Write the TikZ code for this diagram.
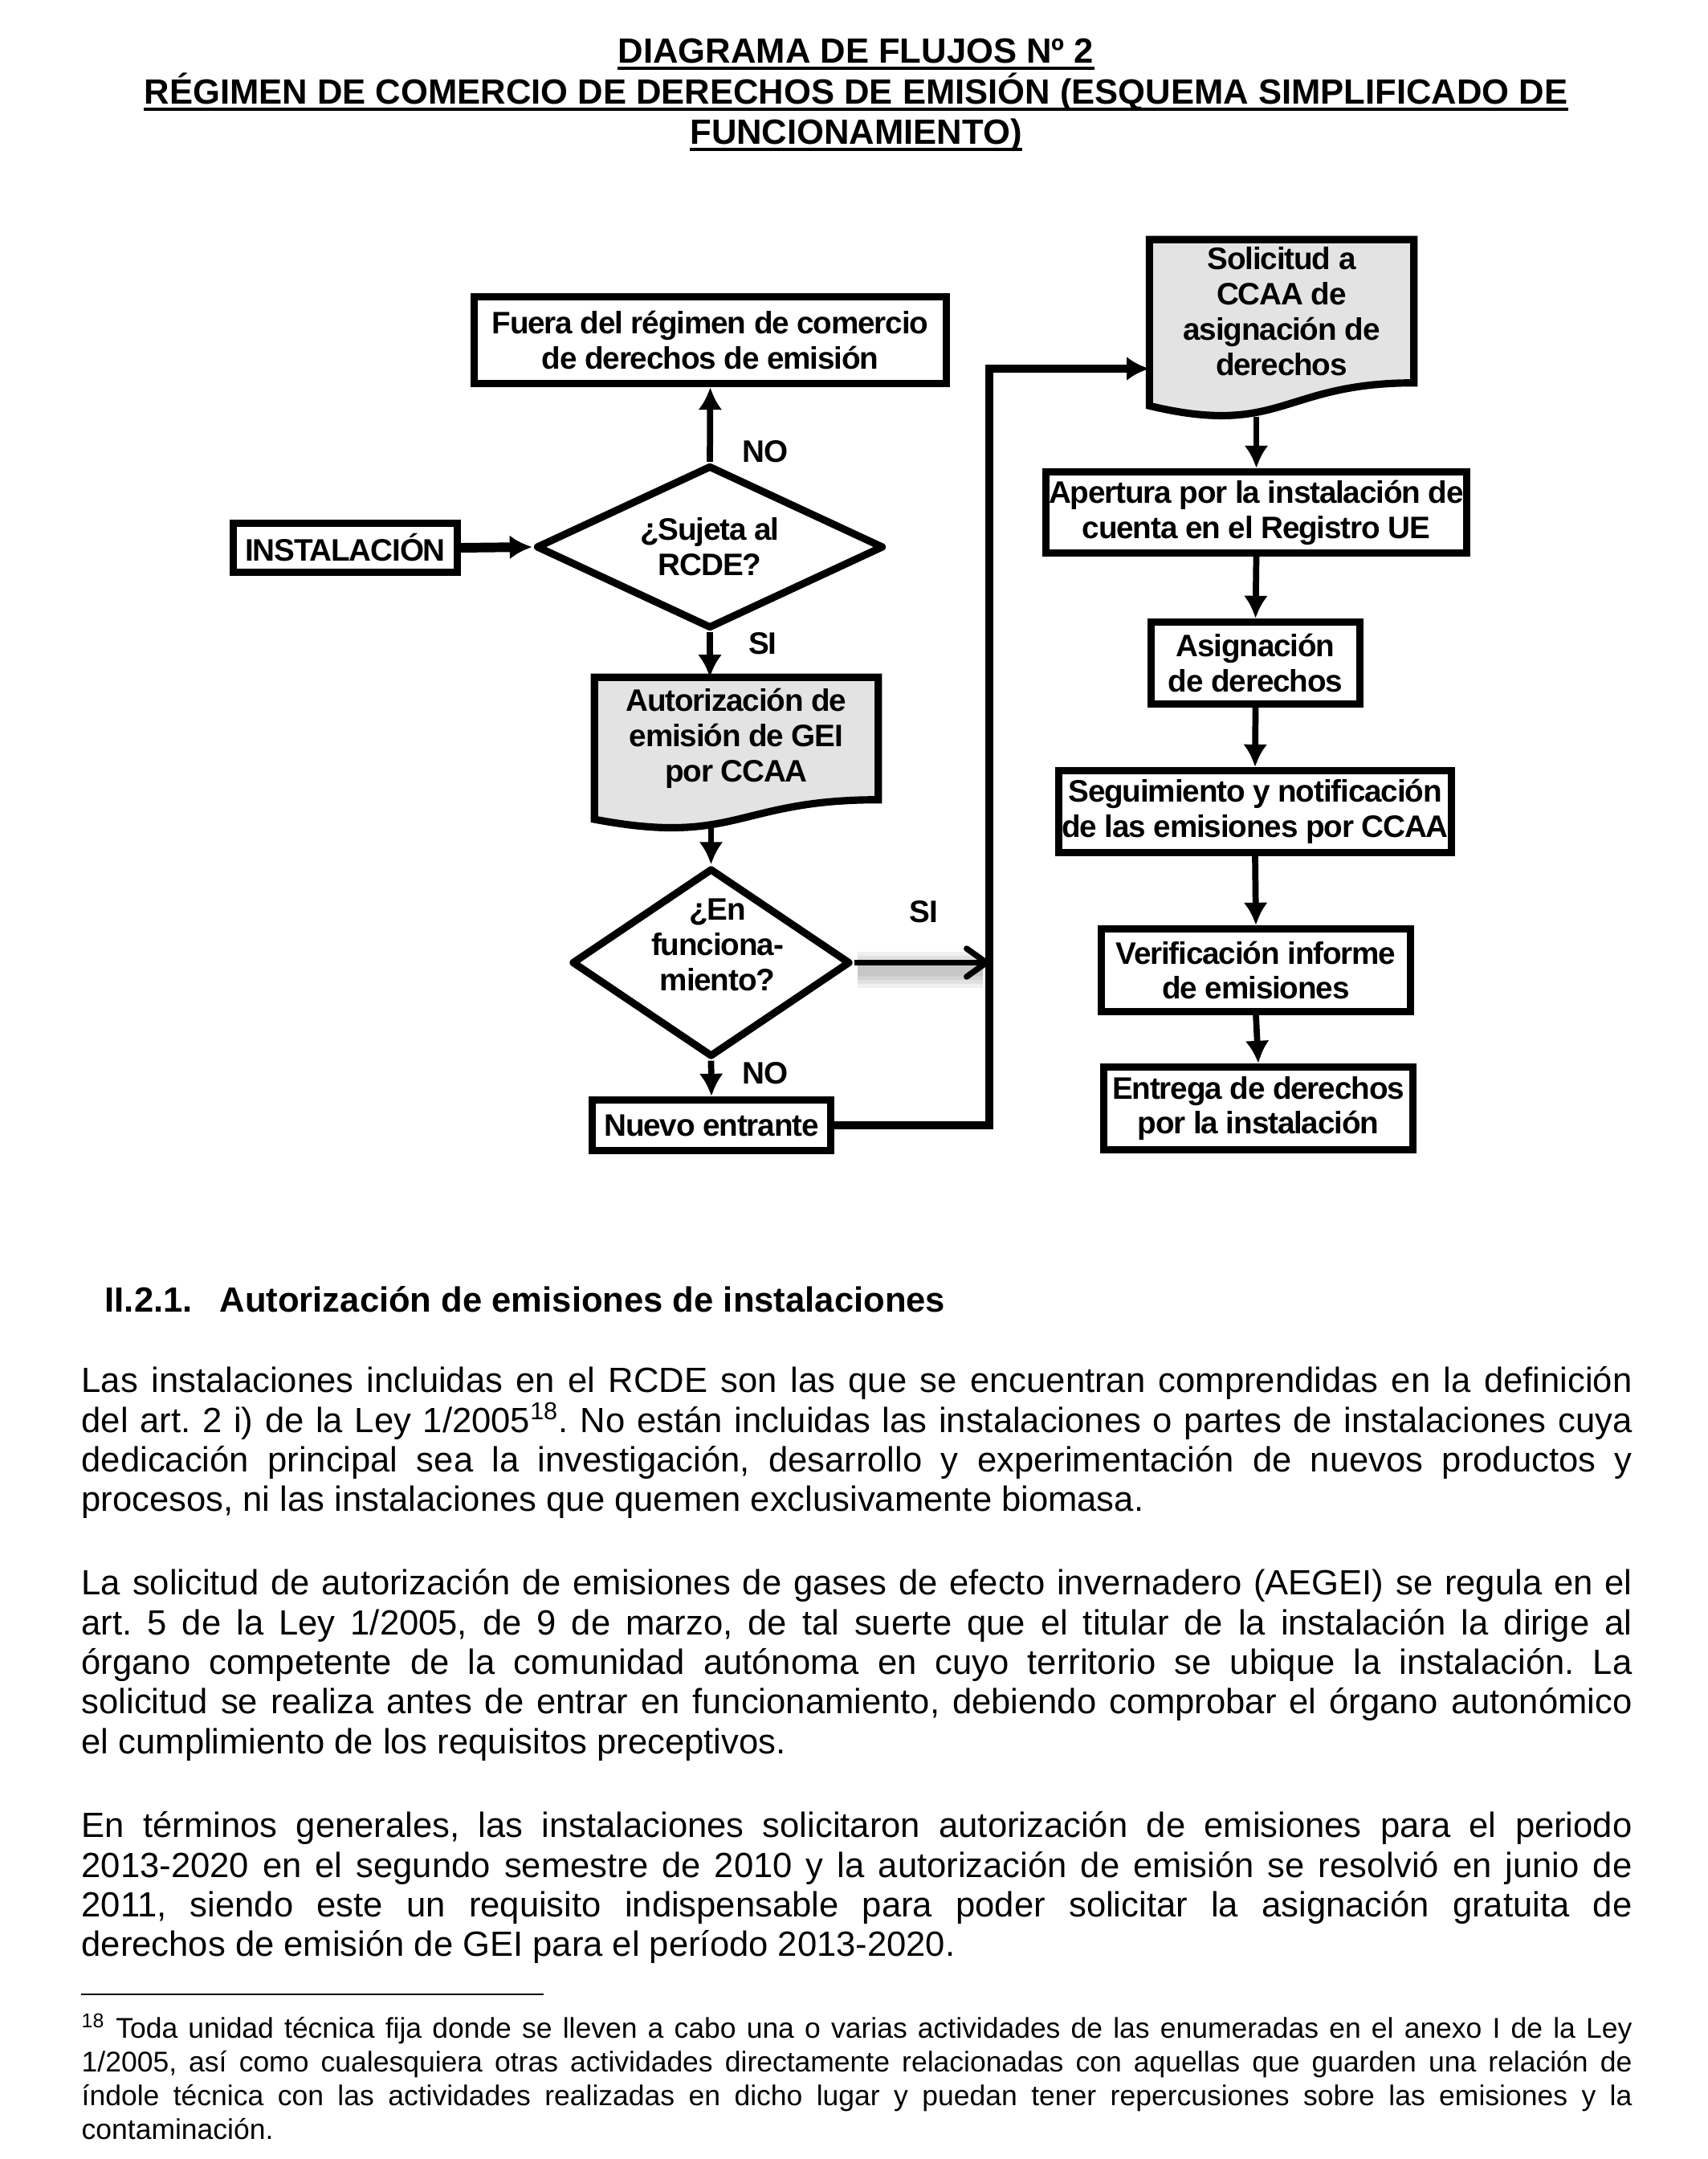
\documentclass[tikz,border=0pt]{standalone}
\usepackage{fontspec}
\setmainfont{Liberation Sans}
\newfontfamily\chartfont[LetterSpace=-3]{Liberation Sans}
\usetikzlibrary{shapes.geometric,arrows.meta,calc,backgrounds}
\frenchspacing

\newcommand\bodysize{\fontsize{12.4}{14.06}\selectfont}
\newcommand\notesize{\fontsize{10.1}{11.9}\selectfont}
\newlength\bodyw
\setlength\bodyw{19.31cm}
\newcommand\fl[1]{\makebox[\bodyw][s]{#1}}
\newcommand\fnmark[1]{\smash{\textsuperscript{#1}}}

\tikzset{
  chart/.style={font=\chartfont\bfseries\fontsize{11}{12.5}\selectfont,
    align=center, inner sep=0pt},
  box/.style={chart, draw, line width=2.6pt},
  docbox/.style={chart},
  decision/.style={chart, diamond, draw, line width=2.6pt, line join=round},
  flow/.style={->, line width=2.2pt},
  title/.style={font=\bfseries\fontsize{12.4}{14.3}\selectfont, inner sep=0pt, anchor=base},
  para/.style={font=\bodysize, align=left, inner sep=0pt, anchor=north west},
}

\begin{document}
\begin{tikzpicture}[>={Latex[length=8pt,width=8.5pt]}]
\def\docshape#1{
  \filldraw[fill=gray!22, line width=2.6pt] (#1.north west) -- (#1.north east)
    -- (#1.south east) .. controls (#1.south) and ($(#1.south)!-0.38!(#1.north)$)
    .. ($(#1.south west)!-0.16!(#1.north west)$) -- cycle;
}
\useasboundingbox (0,0) rectangle (21.26,-26.88);

% titulo
\node[title] (t1) at (10.66,-0.79) {DIAGRAMA DE FLUJOS Nº 2};
\node[title] (t2) at (10.66,-1.30) {RÉGIMEN DE COMERCIO DE DERECHOS DE EMISIÓN (ESQUEMA SIMPLIFICADO DE};
\node[title] (t3) at (10.66,-1.80) {FUNCIONAMIENTO)};
\foreach \tl in {t1,t2,t3}
  \draw[line width=1.1pt] ([yshift=-0.6mm]\tl.base west) -- ([yshift=-0.6mm]\tl.base east);

% columna izquierda
\node[box, minimum width=5.88cm, minimum height=1.08cm] (out) at (8.845,-4.235)
  {Fuera del régimen de comercio\\de derechos de emisión};
\node[box, minimum width=2.79cm, minimum height=0.61cm] (inst) at (4.30,-6.82) {INSTALACIÓN};
\node[decision, aspect=2.1, minimum width=4.33cm, minimum height=2.03cm] (q1) at (8.84,-6.81)
  {¿Sujeta al\\RCDE?};
\node[docbox, minimum width=3.52cm, minimum height=1.51cm] (auth) at (9.17,-9.195)
  {Autorización de\\emisión de GEI\\por CCAA};
\node[decision, minimum width=3.47cm, minimum height=2.35cm] (q2) at (8.855,-11.985) {};
\node[chart] (q2t) at ([xshift=0.08cm,yshift=0.22cm]q2.center) {¿En\\funciona-\\miento?};
\node[box, minimum width=2.97cm, minimum height=0.63cm] (new) at (8.86,-14.01) {Nuevo entrante};

% columna derecha
\node[docbox, minimum width=3.28cm, minimum height=1.77cm] (sol) at (15.96,-3.875)
  {Solicitud a\\CCAA de\\asignación de\\derechos};
\node[box, minimum width=5.24cm, minimum height=1.01cm] (open) at (15.645,-6.38)
  {Apertura por la instalación de\\cuenta en el Registro UE};
\node[box, minimum width=2.60cm, minimum height=1.02cm] (alloc) at (15.635,-8.255)
  {Asignación\\de derechos};
\node[box, minimum width=4.89cm, minimum height=1.02cm] (track) at (15.63,-10.105)
  {Seguimiento y notificación\\de las emisiones por CCAA};
\node[box, minimum width=3.85cm, minimum height=1.03cm] (verif) at (15.64,-12.08)
  {Verificación informe\\de emisiones};
\node[box, minimum width=3.85cm, minimum height=1.03cm] (give) at (15.67,-13.80)
  {Entrega de derechos\\por la instalación};

\begin{scope}[on background layer]
  \fill[white] (0,0) rectangle (21.26,-26.88);
  \docshape{auth}
  \docshape{sol}
\end{scope}

% etiquetas
\node[chart] (no1) at (9.53,-5.62) {NO};
\node[chart] (si1) at (9.50,-8.01) {SI};
\node[chart] (si2) at (11.50,-11.35) {SI};
\node[chart] (no2) at (9.53,-13.36) {NO};

% flechas
\coordinate (rail) at (12.32,-4.59);
\coordinate (authfoot) at ($(auth.south -| q2.north)+(0,-0.35)$);
\coordinate (solfoot) at ($(sol.south -| open.north)+(0,-0.42)$);
\draw[flow, line width=3.4pt] (inst.east) -- (q1.west);
\draw[flow] (q1.north) -- (out.south);
\draw[flow] (q1.south) -- (q1.south |- auth.north);
\draw[flow] (authfoot) -- (q2.north);
\draw[flow] (q2.south) -- (new.north);
\draw[flow, line width=2.6pt] (new.east) -| (rail) -- (rail -| sol.west);
\foreach \w in {13,10,7,4}
  \draw[line width=\w pt, black, opacity=0.06] ($(q2.east)+(0.04,-0.09)$) -- ($(q2.east -| rail)+(-0.08,-0.09)$);
\draw[line width=2.1pt, -{Straight Barb[length=7pt,width=10pt,round]}] (q2.east) -- (q2.east -| rail);
\draw[flow] (solfoot) -- (open.north);
\draw[flow] (open.south) -- (alloc.north);
\draw[flow] (alloc.south) -- (track.north);
\draw[flow] (track.south) -- (verif.north);
\draw[flow] (verif.south) -- (give.north);

% texto
\node[para] (head) at (1.30,-15.983)
  {\strut\makebox[1.43cm][l]{\textbf{II.2.1.}}\textbf{Autorización de emisiones de instalaciones}};
\node[para] (p1) at (1.01,-16.983) {%
\fl{\strut Las instalaciones incluidas en el RCDE son las que se encuentran comprendidas en la definición}\\
\fl{del art. 2 i) de la Ley 1/2005\fnmark{18}. No están incluidas las instalaciones o partes de instalaciones cuya}\\
\fl{dedicación principal sea la investigación, desarrollo y experimentación de nuevos productos y}\\
procesos, ni las instalaciones que quemen exclusivamente biomasa.};
\node[para] (p2) at (1.01,-19.503) {%
\fl{\strut La solicitud de autorización de emisiones de gases de efecto invernadero (AEGEI) se regula en el}\\
\fl{art. 5 de la Ley 1/2005, de 9 de marzo, de tal suerte que el titular de la instalación la dirige al}\\
\fl{órgano competente de la comunidad autónoma en cuyo territorio se ubique la instalación. La}\\
\fl{solicitud se realiza antes de entrar en funcionamiento, debiendo comprobar el órgano autonómico}\\
el cumplimiento de los requisitos preceptivos.};
\node[para] (p3) at (1.01,-22.523) {%
\fl{\strut En términos generales, las instalaciones solicitaron autorización de emisiones para el periodo}\\
\fl{2013-2020 en el segundo semestre de 2010 y la autorización de emisión se resolvió en junio de}\\
\fl{2011, siendo este un requisito indispensable para poder solicitar la asignación gratuita de}\\
derechos de emisión de GEI para el período 2013-2020.};
\draw[line width=0.7pt] (1.01,-24.83) -- (6.77,-24.83);
\node[para, font=\notesize] (fn) at (1.01,-25.076) {%
\fl{\strut\fnmark{18} Toda unidad técnica fija donde se lleven a cabo una o varias actividades de las enumeradas en el anexo I de la Ley}\\
\fl{1/2005, así como cualesquiera otras actividades directamente relacionadas con aquellas que guarden una relación de}\\
\fl{índole técnica con las actividades realizadas en dicho lugar y puedan tener repercusiones sobre las emisiones y la}\\
contaminación.};
\end{tikzpicture}
\end{document}
